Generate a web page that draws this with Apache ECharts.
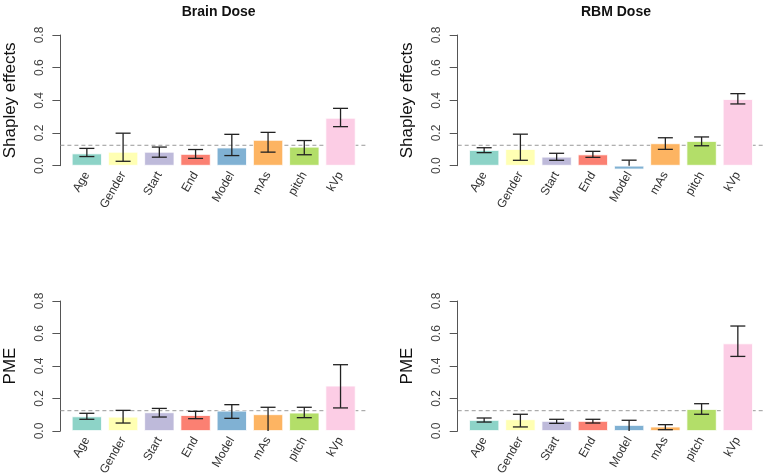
<!DOCTYPE html>
<html><head><meta charset="utf-8">
<script src="https://cdn.jsdelivr.net/npm/echarts@6/dist/echarts.min.js"></script>
<style>html,body{margin:0;padding:0;background:#fff}#c{width:763px;height:474px}</style>
</head><body><div id="c"></div>
<script>
const categories = ['Age','Gender','Start','End','Model','mAs','pitch','kVp'];
const barColors = ['#8DD3C7','#FFFFB3','#BEBADA','#FB8072','#80B1D3','#FDB462','#B3DE69','#FCCDE5'];
const threshold = 0.125;

// Brain Dose — Shapley effects
const brainShapley      = [0.075, 0.085, 0.085, 0.072, 0.111, 0.158, 0.116, 0.293];
const brainShapleyUpper = [0.106, 0.199, 0.114, 0.099, 0.192, 0.204, 0.154, 0.351];
const brainShapleyLower = [0.056, 0.027, 0.052, 0.045, 0.062, 0.083, 0.067, 0.239];
// RBM Dose — Shapley effects
const rbmShapley      = [0.096, 0.102, 0.055, 0.069, -0.023, 0.137, 0.151, 0.408];
const rbmShapleyUpper = [0.110, 0.193, 0.076, 0.088, 0.034, 0.171, 0.176, 0.441];
const rbmShapleyLower = [0.080, 0.033, 0.033, 0.051, -0.030, 0.100, 0.122, 0.378];
// Brain Dose — PME
const brainPME      = [0.090, 0.088, 0.115, 0.098, 0.125, 0.103, 0.113, 0.279];
const brainPMEUpper = [0.109, 0.127, 0.139, 0.121, 0.162, 0.146, 0.146, 0.408];
const brainPMELower = [0.072, 0.049, 0.086, 0.076, 0.078, -0.040, 0.082, 0.142];
// RBM Dose — PME
const rbmPME      = [0.068, 0.072, 0.062, 0.062, 0.037, 0.027, 0.135, 0.539];
const rbmPMEUpper = [0.080, 0.103, 0.072, 0.072, 0.066, 0.039, 0.168, 0.646];
const rbmPMELower = [0.055, 0.025, 0.047, 0.049, -0.010, 0.008, 0.103, 0.459];

const yTicks = [0, 0.2, 0.4, 0.6, 0.8];

const panels = [
  {title:'Brain Dose', ylab:'Shapley effects', vals:brainShapley, up:brainShapleyUpper, lo:brainShapleyLower, left:60.4, top:35, h:130.7},
  {title:'RBM Dose',   ylab:'Shapley effects', vals:rbmShapley,   up:rbmShapleyUpper,   lo:rbmShapleyLower,   left:457.7, top:35, h:130.7},
  {title:'',           ylab:'PME',             vals:brainPME,     up:brainPMEUpper,     lo:brainPMELower,     left:60.4, top:301, h:130},
  {title:'',           ylab:'PME',             vals:rbmPME,       up:rbmPMEUpper,       lo:rbmPMELower,       left:457.7, top:301, h:130}
];

const FONT = 'Liberation Sans, Arial, Helvetica, sans-serif';
const unit = 30.2;
const frameW = 10.152 * unit;
const barsOff = 0.276 * unit;
const barsW = 9.6 * unit;

const grid = [], xAxis = [], yAxis = [], series = [], title = [];
panels.forEach((p, k) => {
  const gF = grid.length;
  grid.push({left:p.left, top:p.top, width:frameW, height:p.h, containLabel:false, outerBoundsMode:'none'});
  grid.push({left:p.left + barsOff, top:p.top, width:barsW, height:p.h, containLabel:false, outerBoundsMode:'none'});
  xAxis.push({type:'value', gridIndex:gF, min:0, max:1, show:false});
  xAxis.push({type:'category', gridIndex:gF+1, data:categories,
    axisLine:{show:false}, axisTick:{show:false},
    axisLabel:{rotate:60, margin:7, interval:0, fontSize:12, color:'#333', fontFamily:FONT}});
  yAxis.push({type:'value', gridIndex:gF, min:yTicks[0], max:yTicks[yTicks.length-1], interval:0.2,
    splitLine:{show:false},
    axisLine:{show:true, lineStyle:{color:'#555', width:1}},
    axisTick:{show:true, length:8, lineStyle:{color:'#555'}},
    axisLabel:{rotate:90, margin:15, fontSize:12, color:'#444', fontFamily:FONT, formatter:v=>v.toFixed(1)},
    name:p.ylab, nameLocation:'middle', nameGap:42,
    nameTextStyle:{fontSize:17, color:'#111', fontFamily:FONT}});
  yAxis.push({type:'value', gridIndex:gF+1, min:0, max:0.8, show:false});
  series.push({type:'line', xAxisIndex:gF, yAxisIndex:gF, data:[[0,threshold],[1,threshold]],
    showSymbol:false, silent:true, lineStyle:{color:'#999', width:1, type:[4,3]}, z:1});
  series.push({type:'bar', xAxisIndex:gF+1, yAxisIndex:gF+1, barWidth:'83.3%', clip:false,
    data:p.vals.map((v,i)=>({value:v, itemStyle:{color:barColors[i]}})),
    itemStyle:{borderColor:'#fff', borderWidth:0.8}, z:2});
  series.push({type:'custom', xAxisIndex:gF+1, yAxisIndex:gF+1, clip:false, z:3,
    data:categories.map((c,i)=>[i, p.up[i], p.lo[i]]),
    renderItem:function(params, api){
      const i = api.value(0), up = api.value(1);
      let lo = api.value(2), capLow = true;
      if (lo < 0) { lo = 0; capLow = false; }
      const pu = api.coord([i, up]), pl = api.coord([i, lo]);
      const hw = api.size([1,0])[0] * 0.207;
      const st = {stroke:'#222', lineWidth:1.3};
      const ch = [
        {type:'line', shape:{x1:pu[0], y1:pu[1], x2:pl[0], y2:pl[1]}, style:st},
        {type:'line', shape:{x1:pu[0]-hw, y1:pu[1], x2:pu[0]+hw, y2:pu[1]}, style:st}
      ];
      if (capLow) ch.push({type:'line', shape:{x1:pl[0]-hw, y1:pl[1], x2:pl[0]+hw, y2:pl[1]}, style:st});
      return {type:'group', children:ch};
    }});
  if (p.title) title.push({text:p.title, left:p.left + frameW/2, top:0, textAlign:'center',
    textStyle:{fontSize:14, fontWeight:'bold', color:'#111', fontFamily:FONT}});
});

const chart = echarts.init(document.getElementById('c'), null, {renderer:'canvas'});
chart.setOption({backgroundColor:'#fff', animation:false, title, grid, xAxis, yAxis, series});
</script></body></html>
